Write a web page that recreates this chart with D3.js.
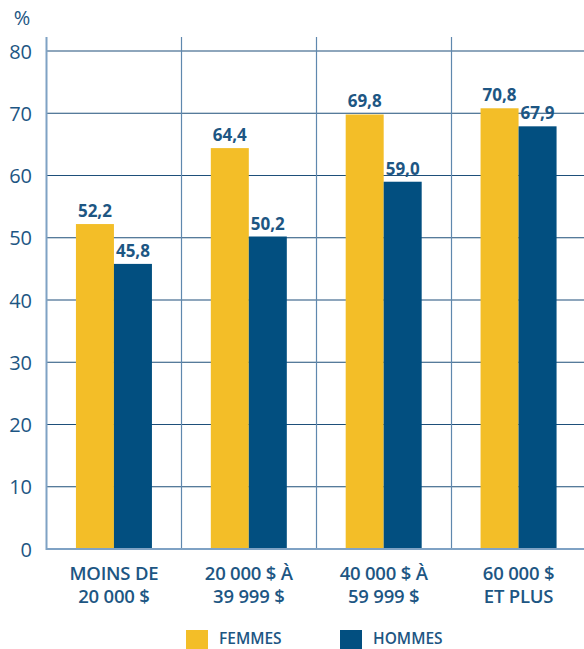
<!DOCTYPE html>
<html>
<head>
<meta charset="utf-8">
<script src="https://cdn.jsdelivr.net/npm/d3@7"></script>
<style>
  html, body { margin: 0; padding: 0; background: #fff; }
  svg { display: block; }
  text { font-family: "Open Sans", "Noto Sans", sans-serif; }
</style>
</head>
<body>
<svg id="chart" width="584" height="649"></svg>
<script>
// Income brackets (two-line labels) and percentages per sex
const categories = [
  ["MOINS DE", "20 000 $"],
  ["20 000 $ À", "39 999 $"],
  ["40 000 $ À", "59 999 $"],
  ["60 000 $", "ET PLUS"]
];
const femmes = [52.2, 64.4, 69.8, 70.8];
const hommes = [45.8, 50.2, 59.0, 67.9];
const seriesNames = ["FEMMES", "HOMMES"];
const yTicks = [0, 10, 20, 30, 40, 50, 60, 70, 80];

const colors = ["#f3be28", "#024f80"];
const textColor = "#1d5683";

const svg = d3.select("#chart");
const plotLeft = 46.5, plotRight = 586, plotTop = 37, plotBottom = 549;

const x = d3.scaleBand().domain(d3.range(categories.length)).range([plotLeft, plotRight]).padding(0);
const groupW = 76;
const xs = d3.scaleBand().domain([0, 1]).range([0, groupW]).padding(0);
const y = d3.scaleLinear().domain([0, 80]).range([plotBottom, 51]);

// horizontal gridlines
svg.append("g").selectAll("line").data(yTicks.filter(d => d > 0)).join("line")
  .attr("x1", plotLeft).attr("x2", 584)
  .attr("y1", d => y(d)).attr("y2", d => y(d))
  .attr("stroke", "#1e4f7a").attr("stroke-width", 1.2);

// vertical separators between brackets
svg.append("g").selectAll("line").data(d3.range(1, categories.length)).join("line")
  .attr("x1", d => Math.round(x(d)) + 0.5).attr("x2", d => Math.round(x(d)) + 0.5)
  .attr("y1", plotTop).attr("y2", plotBottom)
  .attr("stroke", "#5f88ae").attr("stroke-width", 1.2);

// bars
const data = [];
categories.forEach((c, i) => {
  [femmes[i], hommes[i]].forEach((v, s) => data.push({ i, s, v }));
});
const gx = i => x(i) + (x.bandwidth() - groupW) / 2;

svg.append("g").selectAll("rect").data(data).join("rect")
  .attr("x", d => gx(d.i) + xs(d.s))
  .attr("width", xs.bandwidth())
  .attr("y", d => y(d.v))
  .attr("height", d => y(0) - y(d.v))
  .attr("fill", d => colors[d.s]);

// value labels
svg.append("g").selectAll("text").data(data).join("text")
  .attr("x", d => gx(d.i) + xs(d.s) + xs.bandwidth() / 2)
  .attr("y", d => y(d.v) - 7)
  .attr("text-anchor", "middle")
  .attr("fill", textColor)
  .attr("font-family", "Roboto, sans-serif")
  .attr("font-weight", 700)
  .attr("font-size", 17)
  .text(d => d3.format(".1f")(d.v).replace(".", ","));

// axis lines
svg.append("line").attr("x1", plotLeft).attr("x2", plotLeft).attr("y1", plotTop).attr("y2", plotBottom + 1)
  .attr("stroke", "#7fa2c4").attr("stroke-width", 2);
svg.append("line").attr("x1", plotLeft).attr("x2", 584).attr("y1", plotBottom).attr("y2", plotBottom)
  .attr("stroke", "#7fa2c4").attr("stroke-width", 2);

// y tick labels
const yAxis = d3.axisLeft(y).tickValues(yTicks).tickSize(0).tickPadding(0);
const ya = svg.append("g").attr("transform", "translate(32,0)").call(yAxis);
ya.select(".domain").remove();
ya.selectAll("text")
  .attr("fill", textColor)
  .attr("font-size", 20)
  .attr("font-family", "\"Open Sans\", sans-serif")
  .attr("dy", "0.36em");

svg.append("text").attr("x", 22).attr("y", 25).attr("text-anchor", "middle")
  .attr("fill", textColor).attr("font-size", 20).text("%");

// category labels
const cat = svg.append("g").selectAll("text").data(categories).join("text")
  .attr("text-anchor", "middle")
  .attr("fill", textColor)
  .attr("font-weight", 600)
  .attr("font-size", 18.5)
  .attr("letter-spacing", -0.2);
cat.each(function(d, i) {
  const t = d3.select(this);
  d.forEach((line, k) => {
    t.append("tspan").attr("x", x(i) + x.bandwidth() / 2).attr("y", 580 + k * 23).text(line);
  });
});

// legend
const legendX = [186, 340];
const lg = svg.append("g").selectAll("g").data(seriesNames).join("g")
  .attr("transform", (d, i) => `translate(${legendX[i]},630)`);
lg.append("rect").attr("width", 22).attr("height", 22).attr("fill", (d, i) => colors[i]);
lg.append("text").attr("x", 33).attr("y", 14)
  .attr("fill", textColor).attr("font-weight", 600).attr("font-size", 15.5)
  .text(d => d);
</script>
</body>
</html>
